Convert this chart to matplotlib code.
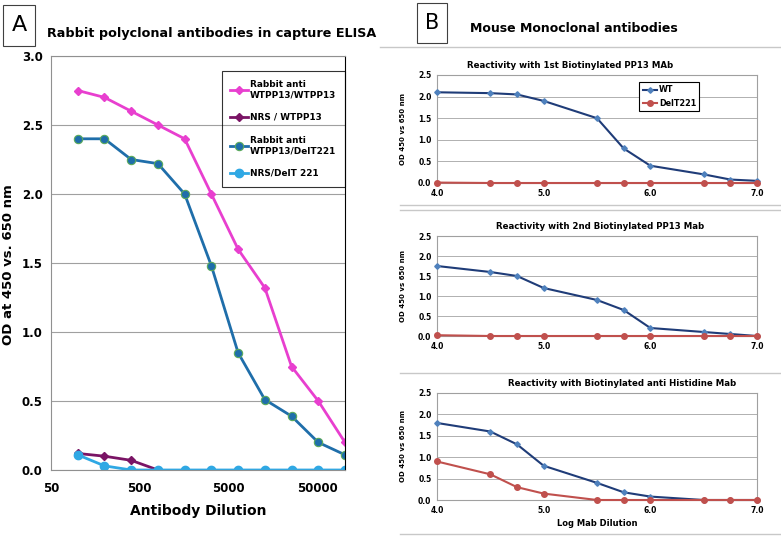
import numpy as np
import matplotlib
matplotlib.use("Agg")
import matplotlib.pyplot as plt
from matplotlib.lines import Line2D
from matplotlib.patches import Rectangle

# ---- panel A data (two-fold dilution series) ----
dilution = [100, 200, 400, 800, 1600, 3200, 6400, 12800, 25600, 51200, 102400]
rabbit_wt = [2.75, 2.70, 2.60, 2.50, 2.40, 2.00, 1.60, 1.32, 0.75, 0.50, 0.20]
nrs_wt = [0.12, 0.10, 0.07, 0.00]
rabbit_del = [2.40, 2.40, 2.25, 2.22, 2.00, 1.48, 0.85, 0.51, 0.39, 0.20, 0.11]
nrs_del = [0.11, 0.03, 0.00, 0.00, 0.00, 0.00, 0.00, 0.00, 0.00, 0.00, 0.00]
a_ticks = [50, 500, 5000, 50000]

# ---- panel B data (log dilution) ----
log_dil = [4.0, 4.5, 4.75, 5.0, 5.5, 5.75, 6.0, 6.5, 6.75, 7.0]
wt1 = [2.10, 2.08, 2.05, 1.90, 1.50, 0.80, 0.40, 0.20, 0.08, 0.05]
del1 = [0.01, 0.00, 0.00, 0.00, 0.00, 0.00, 0.00, 0.00, 0.00, 0.00]
wt2 = [1.75, 1.60, 1.50, 1.20, 0.90, 0.65, 0.20, 0.10, 0.05, 0.00]
del2 = [0.02, 0.00, 0.00, 0.00, 0.00, 0.00, 0.00, 0.00, 0.00, 0.00]
wt3 = [1.80, 1.60, 1.30, 0.80, 0.40, 0.18, 0.08, 0.00, 0.00, 0.00]
del3 = [0.90, 0.60, 0.30, 0.15, 0.00, 0.00, 0.00, 0.00, 0.00, 0.00]
b_titles = ["Reactivity with 1st Biotinylated PP13 MAb",
            "Reactivity with 2nd Biotinylated PP13 Mab",
            "Reactivity with Biotinylated anti Histidine Mab"]

W, H = 781, 542
fig = plt.figure(figsize=(W / 100, H / 100), dpi=100)


def fx(px):
    return px / W


def fy(py):
    return 1 - py / H


# ---------------- panel A ----------------
axA = fig.add_axes([fx(51), fy(470), fx(294), fy(56) - fy(470)])
axA.plot(dilution, rabbit_wt, color='#E83FCF', lw=2, marker='D', ms=4.5,
         label='Rabbit anti\nWTPP13/WTPP13')
axA.plot(dilution[:len(nrs_wt)], nrs_wt, color='#7A1465', lw=2, marker='D', ms=4,
         label='NRS / WTPP13')
axA.plot(dilution, rabbit_del, color='#1F6EAA', lw=2, marker='o', ms=6,
         mec='#5BAA5B', mew=0.8, label='Rabbit anti\nWTPP13/DelT221')
axA.plot(dilution, nrs_del, color='#2FA8E4', lw=2, marker='o', ms=6,
         label='NRS/DelT 221')
axA.set_xscale('log')
axA.set_xlim(50, 102400)
axA.set_ylim(0, 3)
axA.set_xticks(a_ticks)
axA.set_xticklabels([str(t) for t in a_ticks])
axA.minorticks_off()
axA.set_yticks(np.arange(0, 3.01, 0.5))
axA.set_yticklabels(['%.1f' % v for v in np.arange(0, 3.01, 0.5)])
axA.tick_params(axis='y', length=0, labelsize=8.5, pad=6)
axA.tick_params(axis='x', length=0, labelsize=8.5, pad=9)
for lab in axA.get_xticklabels() + axA.get_yticklabels():
    lab.set_fontweight('bold')
axA.grid(axis='y', color='#A0A0A0', lw=0.8)
axA.set_axisbelow(True)
for s in ['left', 'top', 'bottom']:
    axA.spines[s].set_color('#909090')
axA.spines['right'].set_color('black')
axA.set_xlabel('Antibody Dilution', fontsize=10, fontweight='bold', labelpad=6)
leg = axA.legend(loc='upper left', bbox_to_anchor=(0.565, 0.975),
                 fancybox=False, edgecolor='black', facecolor='none',
                 labelspacing=1.55, handlelength=2.0, handletextpad=0.2,
                 borderpad=1.0, prop={'weight': 'bold', 'size': 6.4})
leg.get_frame().set_linewidth(0.8)
fig.text(fx(9), fy(265), 'OD at 450 vs. 650 nm', rotation=90, ha='center',
         va='center', fontsize=9.5, fontweight='bold')
fig.text(fx(47), fy(33), 'Rabbit polyclonal antibodies in capture ELISA',
         fontsize=9.2, fontweight='bold', va='center')
fig.add_artist(Rectangle((fx(3), fy(46)), fx(32), fy(5) - fy(46),
                         fill=False, ec='#404040', lw=0.8))
fig.text(fx(19), fy(25), 'A', fontsize=16, ha='center', va='center')

# ---------------- panel B ----------------
fig.add_artist(Rectangle((fx(417), fy(43)), fx(30), fy(3) - fy(43),
                         fill=False, ec='#404040', lw=0.8))
fig.text(fx(432), fy(23), 'B', fontsize=15, ha='center', va='center')
fig.text(fx(470), fy(28), 'Mouse Monoclonal antibodies', fontsize=9,
         fontweight='bold', va='center')
for y0, x0 in [(47, 380), (205, 400), (210, 400), (373, 400), (534, 400)]:
    fig.add_artist(Line2D([fx(x0), 1], [fy(y0), fy(y0)], color='#C8C8C8', lw=1))

b_boxes = [(75, 183), (236, 336), (393, 500)]
b_wt = [wt1, wt2, wt3]
b_del = [del1, del2, del3]
title_x = [570, 600, 622]
for i in range(3):
    top, bot = b_boxes[i]
    ax = fig.add_axes([fx(437), fy(bot), fx(320), fy(top) - fy(bot)])
    ax.plot(log_dil, b_wt[i], color='#1F3C78', lw=1.5, marker='D', ms=2.8,
            mfc='#4F81BD', mec='#4F81BD', label='WT', clip_on=False, zorder=3)
    ax.plot(log_dil, b_del[i], color='#C0504D', lw=1.5, marker='o', ms=4,
            label='DelT221', clip_on=False, zorder=3)
    ax.set_xlim(4.0, 7.0)
    ax.set_ylim(0, 2.5)
    ax.set_xticks([4.0, 5.0, 6.0, 7.0])
    ax.set_xticklabels(['4.0', '5.0', '6.0', '7.0'])
    ax.set_yticks(np.arange(0, 2.51, 0.5))
    ax.set_yticklabels(['%.1f' % v for v in np.arange(0, 2.51, 0.5)])
    ax.tick_params(length=0, labelsize=5.5, pad=4)
    for lab in ax.get_xticklabels() + ax.get_yticklabels():
        lab.set_fontweight('bold')
    ax.grid(axis='y', color='#B0B0B0', lw=0.7)
    ax.set_axisbelow(True)
    for s in ax.spines.values():
        s.set_color('#A0A0A0')
    ax.set_title(b_titles[i], fontsize=6.2, fontweight='bold',
                 x=(title_x[i] - 437) / 320, pad=5)
    fig.text(fx(403), fy((top + bot) / 2), 'OD 450 vs 650 nm', rotation=90,
             ha='center', va='center', fontsize=5, fontweight='bold')
    if i == 0:
        lg = ax.legend(loc='upper left', bbox_to_anchor=(0.62, 0.97),
                       fancybox=False, edgecolor='black', framealpha=1,
                       handlelength=1.8, handletextpad=0.2, borderpad=0.4,
                       labelspacing=0.5, prop={'weight': 'bold', 'size': 5.8})
        lg.get_frame().set_linewidth(0.8)
    if i == 2:
        ax.set_xlabel('Log Mab Dilution', fontsize=6, fontweight='bold', labelpad=3)

fig.savefig('out.png', dpi=100)
